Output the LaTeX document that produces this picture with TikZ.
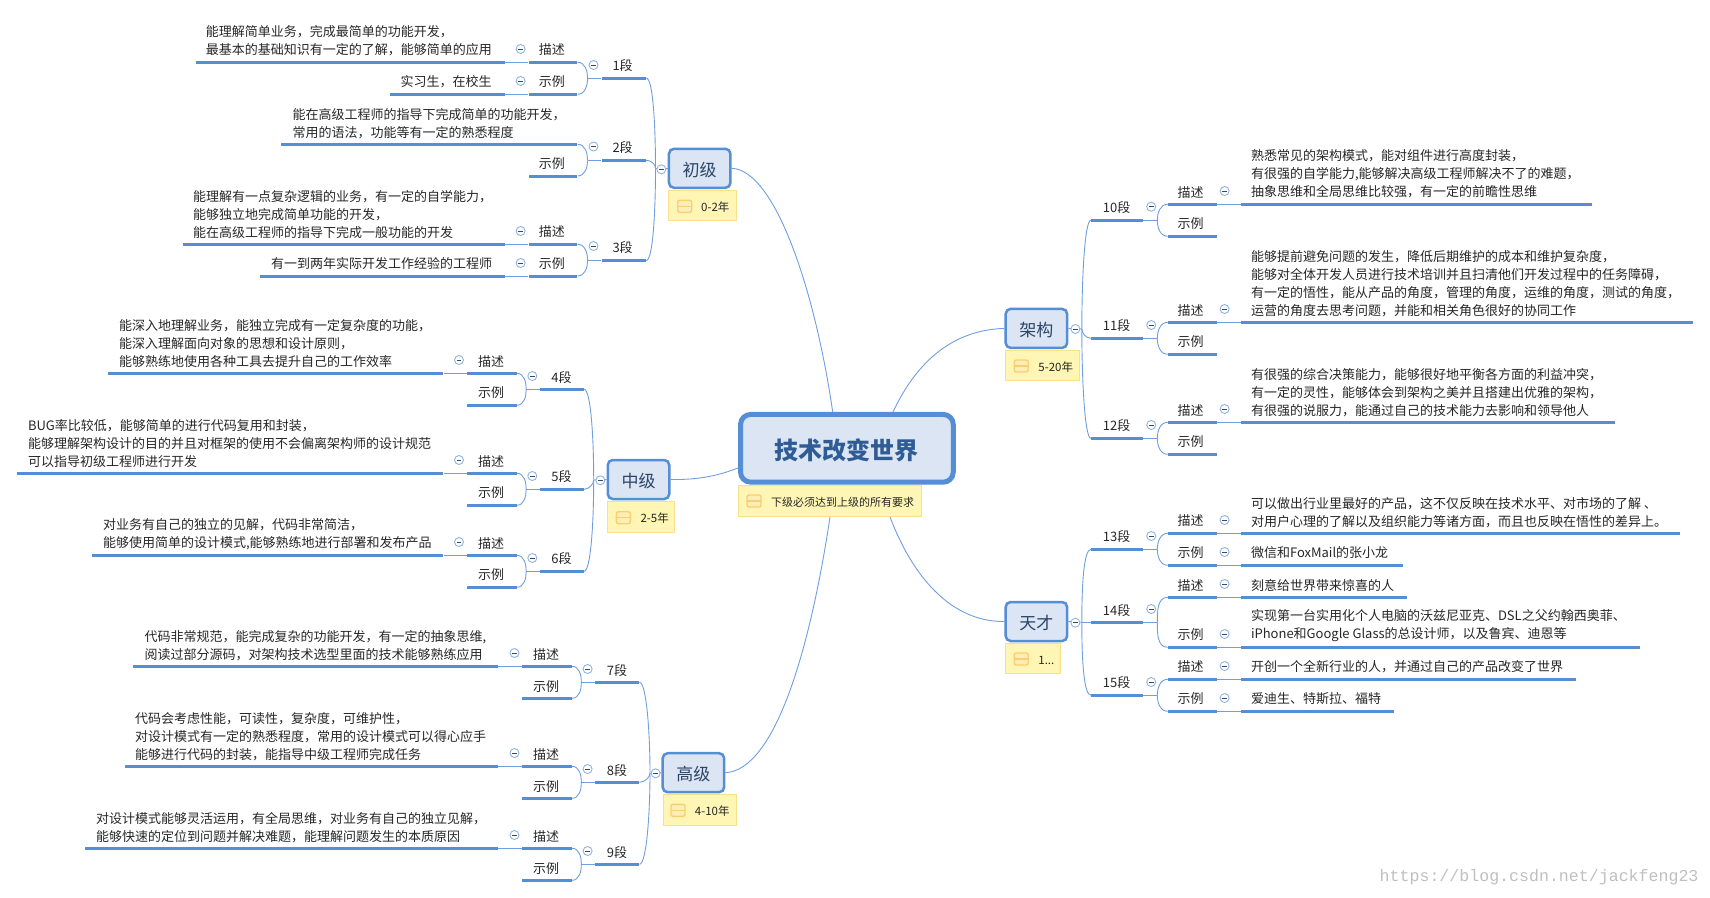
\documentclass[tikz,border=0pt]{standalone}
\usepackage{fontspec}
\usepackage{tikz}
\setmainfont{Noto Sans CJK SC}
\newfontfamily\markfont{Liberation Mono}
\definecolor{barblue}{HTML}{558ED5}
\definecolor{linkblue}{HTML}{6E9FDF}
\definecolor{boxfill}{HTML}{DBE5F3}
\definecolor{topicink}{HTML}{2B4468}
\definecolor{rootink}{HTML}{2F5C94}
\definecolor{notefill}{HTML}{FFF6B5}
\definecolor{noteline}{HTML}{F9E18C}
\definecolor{markfill}{HTML}{FFEDB8}
\definecolor{markline}{HTML}{F8CF72}
\definecolor{foldline}{HTML}{8FB3E3}
\definecolor{bodyink}{HTML}{262626}
\tikzset{
  txt/.style={inner sep=0pt,anchor=west,align=left,yshift=-1pt,text=bodyink,font=\fontsize{13}{18}\selectfont},
  lab/.style={inner sep=0pt,yshift=-1pt,text=bodyink,font=\fontsize{13}{18}\selectfont},
  notetxt/.style={inner sep=0pt,anchor=west,text=bodyink,font=\fontsize{11.5}{14}\selectfont},
  bar/.style={fill=barblue,inner sep=0pt,minimum height=3pt},
  lbar/.style={bar,anchor=east,minimum width=#1},
  rbar/.style={bar,anchor=west,minimum width=#1},
  link/.style={draw=linkblue,line width=0.9pt},
  topic/.style={rectangle,rounded corners=5pt,draw=barblue,line width=2.5pt,fill=boxfill,
    minimum width=61.5pt,minimum height=39pt,inner sep=0pt,text height=16pt,text depth=0pt,text=topicink,font=\fontsize{17}{20}\selectfont},
  note/.style={rectangle,draw=noteline,line width=1pt,fill=notefill,minimum height=30.5pt,inner sep=0pt,minimum width=#1},
  notemark/.style={rectangle,rounded corners=2pt,draw=markline,line width=1.4pt,fill=markfill,
    minimum width=14pt,minimum height=12pt,inner sep=0pt,
    path picture={\draw[markline,line width=1.4pt] (-8pt,0pt) -- (8pt,0pt);}},
  fold/.style={circle,draw=foldline,line width=0.9pt,fill=white,minimum size=9pt,inner sep=0pt,
    path picture={\draw[black!60!foldline,line width=0.8pt] (-2.4pt,0pt) -- (2.4pt,0pt);}}
}
\begin{document}
\begin{tikzpicture}
  [x=1pt,y=-1pt,auto=left]
  \useasboundingbox (0,0) rectangle (1710,897);

  \node[style={rectangle,rounded corners=10pt,draw=barblue,line width=5pt,fill=boxfill,minimum width=212.7pt,minimum height=67.7pt,inner sep=0pt,text height=22pt,text depth=0pt,text=rootink,font=\fontsize{24}{28}\selectfont\bfseries}] (root) at (846.9,448.3) {技术改变世界};
  \node[note=182.7pt,minimum height=30.7pt] (rootnote) at (829.85,500.85) {};
  \node[notemark] (rootmark) at (754,501) {};
  \node[notetxt,font=\fontsize{11}{14}\selectfont] (roottxt) at (771,502.3) {下级必须达到上级的所有要求};
  \coordinate (c1) at (832.7,412);
  \coordinate (c2) at (893,412);
  \coordinate (c3) at (830,517);
  \coordinate (c4) at (890,517);
  \coordinate (c5) at (738,468);

  % left side
  \node[topic] (topic1) at (699.7,168.3) {初级};
  \node[note=67.4pt] (note1) at (702.5,205.6) {};
  \node[notemark] (mark1) at (684.7,206.3) {};
  \node[notetxt] (notetxt1) at (701,207) {0-2年};
  \coordinate (jt1) at (655.5,168.3);

  \node[lab] (seg1) at (622.6,65) {1段};
  \node[lbar=44.4pt] (bar1) at (646.2,78) {};
  \node[lab] (d1) at (551.8,49) {描述};
  \node[lbar=48.8pt] (dbar1) at (577.6,62.3) {};
  \node[lbar=308.9pt] (dlong1) at (504.7,62.3) {};
  \node[txt] (dtxt1) at (205.7,40) {能理解简单业务，完成最简单的功能开发，\\最基本的基础知识有一定的了解，能够简单的应用};
  \node[lab] (e1) at (551.8,81) {示例};
  \node[lbar=48.8pt] (ebar1) at (577.6,94.3) {};
  \node[lbar=114.1pt] (elong1) at (504.7,94.3) {};
  \node[txt] (etxt1) at (400.4,81) {实习生，在校生};

  \node[lab] (seg2) at (622.6,147) {2段};
  \node[lbar=44.4pt] (bar2) at (646.2,160.3) {};
  \node[lbar=296.2pt] (dbar2) at (577.6,144.3) {};
  \node[txt] (dtxt2) at (292.4,122.3) {能在高级工程师的指导下完成简单的功能开发，\\常用的语法，功能等有一定的熟悉程度};
  \node[lab] (e2) at (551.8,163) {示例};
  \node[lbar=48.8pt] (ebar2) at (577.6,176) {};

  \node[lab] (seg3) at (622.6,247) {3段};
  \node[lbar=44.4pt] (bar3) at (646.2,260.5) {};
  \node[lab] (d3) at (551.8,231) {描述};
  \node[lbar=48.8pt] (dbar3) at (577.6,244.3) {};
  \node[lbar=322pt] (dlong3) at (504.7,244.3) {};
  \node[txt] (dtxt3) at (193,213.3) {能理解有一点复杂逻辑的业务，有一定的自学能力，\\能够独立地完成简单功能的开发，\\能在高级工程师的指导下完成一般功能的开发};
  \node[lab] (e3) at (551.8,263) {示例};
  \node[lbar=48.8pt] (ebar3) at (577.6,276) {};
  \node[lbar=244.1pt] (elong3) at (504.7,276) {};
  \node[txt] (etxt3) at (271,263) {有一到两年实际开发工作经验的工程师};

  \node[topic] (topic2) at (638.5,479.5) {中级};
  \node[note=66.9pt] (note2) at (641.35,516.8) {};
  \node[notemark] (mark2) at (623.4,517.7) {};
  \node[notetxt] (notetxt2) at (640.4,518) {2-5年};
  \coordinate (jt2) at (593.7,480);

  \node[lab] (seg4) at (561.6,376.3) {4段};
  \node[lbar=43.6pt] (bar4) at (584,389.3) {};
  \node[lab] (d4) at (491,360.3) {描述};
  \node[lbar=49.8pt] (dbar4) at (516.8,373.3) {};
  \node[lbar=335.1pt] (dlong4) at (443.6,373.3) {};
  \node[txt] (dtxt4) at (119,342.3) {能深入地理解业务，能独立完成有一定复杂度的功能，\\能深入理解面向对象的思想和设计原则，\\能够熟练地使用各种工具去提升自己的工作效率};
  \node[lab] (e4) at (491,392) {示例};
  \node[lbar=49.8pt] (ebar4) at (516.8,405.3) {};

  \node[lab] (seg5) at (561.6,476) {5段};
  \node[lbar=43.6pt] (bar5) at (584,489.3) {};
  \node[lab] (d5) at (491,460.3) {描述};
  \node[lbar=49.8pt] (dbar5) at (516.8,473.3) {};
  \node[lbar=426.1pt] (dlong5) at (443.6,473.3) {};
  \node[txt] (dtxt5) at (27.8,442.3) {BUG率比较低，能够简单的进行代码复用和封装，\\能够理解架构设计的目的并且对框架的使用不会偏离架构师的设计规范\\可以指导初级工程师进行开发};
  \node[lab] (e5) at (491,492) {示例};
  \node[lbar=49.8pt] (ebar5) at (516.8,505.3) {};

  \node[lab] (seg6) at (561.6,558) {6段};
  \node[lbar=43.6pt] (bar6) at (584,571.3) {};
  \node[lab] (d6) at (491,542.3) {描述};
  \node[lbar=49.8pt] (dbar6) at (516.8,555.3) {};
  \node[lbar=351.1pt] (dlong6) at (443.6,555.3) {};
  \node[txt] (dtxt6) at (102.9,533.3) {对业务有自己的独立的见解，代码非常简洁，\\能够使用简单的设计模式,能够熟练地进行部署和发布产品};
  \node[lab] (e6) at (491,574) {示例};
  \node[lbar=49.8pt] (ebar6) at (516.8,587.3) {};

  \node[topic] (topic3) at (693.4,772.7) {高级};
  \node[note=73.1pt] (note3) at (699.65,810) {};
  \node[notemark] (mark3) at (678,810.3) {};
  \node[notetxt] (notetxt3) at (694.7,811) {4-10年};
  \coordinate (jt3) at (650,773.3);

  \node[lab] (seg7) at (616.9,669.3) {7段};
  \node[lbar=43.9pt] (bar7) at (639.5,682.3) {};
  \node[lab] (d7) at (546,653.3) {描述};
  \node[lbar=49.5pt] (dbar7) at (572,666.3) {};
  \node[lbar=364.8pt] (dlong7) at (498.4,666.3) {};
  \node[txt] (dtxt7) at (144.5,644.3) {代码非常规范，能完成复杂的功能开发，有一定的抽象思维,\\阅读过部分源码，对架构技术选型里面的技术能够熟练应用};
  \node[lab] (e7) at (546,685.3) {示例};
  \node[lbar=49.5pt] (ebar7) at (572,698.3) {};

  \node[lab] (seg8) at (616.9,769.3) {8段};
  \node[lbar=43.9pt] (bar8) at (639.5,782.3) {};
  \node[lab] (d8) at (546,753.3) {描述};
  \node[lbar=49.5pt] (dbar8) at (572,766.3) {};
  \node[lbar=373.7pt] (dlong8) at (498.4,766.3) {};
  \node[txt] (dtxt8) at (135,735.3) {代码会考虑性能，可读性，复杂度，可维护性，\\对设计模式有一定的熟悉程度，常用的设计模式可以得心应手\\能够进行代码的封装，能指导中级工程师完成任务};
  \node[lab] (e8) at (546,785.3) {示例};
  \node[lbar=49.5pt] (ebar8) at (572,798.3) {};

  \node[lab] (seg9) at (616.9,851.3) {9段};
  \node[lbar=43.9pt] (bar9) at (639.5,864.3) {};
  \node[lab] (d9) at (546,835.3) {描述};
  \node[lbar=49.5pt] (dbar9) at (572,848.3) {};
  \node[lbar=412.9pt] (dlong9) at (498.4,848.3) {};
  \node[txt] (dtxt9) at (95.9,826.3) {对设计模式能够灵活运用，有全局思维，对业务有自己的独立见解，\\能够快速的定位到问题并解决难题，能理解问题发生的本质原因};
  \node[lab] (e9) at (546,867.3) {示例};
  \node[lbar=49.5pt] (ebar9) at (572,880.3) {};

  % right side
  \node[topic] (topic4) at (1036.4,328.4) {架构};
  \node[note=74pt] (note4) at (1042.5,365.5) {};
  \node[notemark] (mark4) at (1021.2,366) {};
  \node[notetxt] (notetxt4) at (1038.2,367) {5-20年};
  \coordinate (jt4) at (1081.8,329);

  \node[lab] (seg10) at (1116.7,207) {10段};
  \node[rbar=51.9pt] (bar10) at (1091,220) {};
  \node[lab] (d10) at (1190.6,191.3) {描述};
  \node[rbar=48.7pt] (dbar10) at (1167.7,204.3) {};
  \node[rbar=350.8pt] (dlong10) at (1240.7,204.3) {};
  \node[txt] (dtxt10) at (1250.8,173) {熟悉常见的架构模式，能对组件进行高度封装，\\有很强的自学能力,能够解决高级工程师解决不了的难题，\\抽象思维和全局思维比较强，有一定的前瞻性思维};
  \node[lab] (e10) at (1190.6,223) {示例};
  \node[rbar=48.7pt] (ebar10) at (1167.7,236.3) {};

  \node[lab] (seg11) at (1116.7,325) {11段};
  \node[rbar=51.9pt] (bar11) at (1091,338.3) {};
  \node[lab] (d11) at (1190.6,309.3) {描述};
  \node[rbar=48.7pt] (dbar11) at (1167.7,322.3) {};
  \node[rbar=451.8pt] (dlong11) at (1240.7,322.3) {};
  \node[txt] (dtxt11) at (1250.8,282.3) {能够提前避免问题的发生，降低后期维护的成本和维护复杂度，\\能够对全体开发人员进行技术培训并且扫清他们开发过程中的任务障碍，\\有一定的悟性，能从产品的角度，管理的角度，运维的角度，测试的角度，\\运营的角度去思考问题，并能和相关角色很好的协同工作};
  \node[lab] (e11) at (1190.6,341) {示例};
  \node[rbar=48.7pt] (ebar11) at (1167.7,354.3) {};

  \node[lab] (seg12) at (1116.7,425) {12段};
  \node[rbar=51.9pt] (bar12) at (1091,438.3) {};
  \node[lab] (d12) at (1190.6,409.3) {描述};
  \node[rbar=48.7pt] (dbar12) at (1167.7,422.3) {};
  \node[rbar=373.7pt] (dlong12) at (1240.7,422.3) {};
  \node[txt] (dtxt12) at (1250.8,391.3) {有很强的综合决策能力，能够很好地平衡各方面的利益冲突，\\有一定的灵性，能够体会到架构之美并且搭建出优雅的架构，\\有很强的说服力，能通过自己的技术能力去影响和领导他人};
  \node[lab] (e12) at (1190.6,441) {示例};
  \node[rbar=48.7pt] (ebar12) at (1167.7,454.3) {};

  \node[topic] (topic5) at (1036.4,621.5) {天才};
  \node[note=54.7pt] (note5) at (1032.9,658.5) {};
  \node[notemark] (mark5) at (1021.2,659) {};
  \node[notetxt] (notetxt5) at (1038.2,660) {1...};
  \coordinate (jt5) at (1081.8,622.3);

  \node[lab] (seg13) at (1116.7,536) {13段};
  \node[rbar=51.9pt] (bar13) at (1091,549.3) {};
  \node[lab] (d13) at (1190.6,520) {描述};
  \node[rbar=48.7pt] (dbar13) at (1167.7,533.3) {};
  \node[rbar=438.9pt] (dlong13) at (1240.7,533.3) {};
  \node[txt] (dtxt13) at (1250.8,511.2) {可以做出行业里最好的产品，这不仅反映在技术水平、对市场的了解 、\\对用户心理的了解以及组织能力等诸方面，而且也反映在悟性的差异上。};
  \node[lab] (e13) at (1190.6,552) {示例};
  \node[rbar=48.7pt] (ebar13) at (1167.7,565.3) {};
  \node[rbar=161.6pt] (elong13) at (1240.7,565.3) {};
  \node[txt] (etxt13) at (1250.8,552) {微信和FoxMail的张小龙};

  \node[lab] (seg14) at (1116.7,609.3) {14段};
  \node[rbar=51.9pt] (bar14) at (1091,622.3) {};
  \node[lab] (d14) at (1190.6,584.3) {描述};
  \node[rbar=48.7pt] (dbar14) at (1167.7,597.3) {};
  \node[rbar=165.7pt] (dlong14) at (1240.7,597.3) {};
  \node[txt] (dtxt14) at (1250.8,584.3) {刻意给世界带来惊喜的人};
  \node[lab] (e14) at (1190.6,634) {示例};
  \node[rbar=48.7pt] (ebar14) at (1167.7,647.3) {};
  \node[rbar=399pt] (elong14) at (1240.7,647.3) {};
  \node[txt] (etxt14) at (1250.8,625) {实现第一台实用化个人电脑的沃兹尼亚克、DSL之父约翰西奥菲、\\iPhone和Google Glass的总设计师，以及鲁宾、迪恩等};

  \node[lab] (seg15) at (1116.7,682) {15段};
  \node[rbar=51.9pt] (bar15) at (1091,695.3) {};
  \node[lab] (d15) at (1190.6,666) {描述};
  \node[rbar=48.7pt] (dbar15) at (1167.7,679.3) {};
  \node[rbar=334.7pt] (dlong15) at (1240.7,679.3) {};
  \node[txt] (dtxt15) at (1250.8,666) {开创一个全新行业的人，并通过自己的产品改变了世界};
  \node[lab] (e15) at (1190.6,698) {示例};
  \node[rbar=48.7pt] (ebar15) at (1167.7,711.3) {};
  \node[rbar=152.9pt] (elong15) at (1240.7,711.3) {};
  \node[txt] (etxt15) at (1250.8,698) {爱迪生、特斯拉、福特};

  \node[inner sep=0pt,anchor=west,text=black!25,font=\markfont\fontsize{16.6}{18}\selectfont] (stamp) at (1379.5,877) {https://blog.csdn.net/jackfeng23};

  \foreach \n in {1,...,9}
    \coordinate (j\n) at ([xshift=-13.8pt]bar\n.west);
  \foreach \n in {10,...,15}
    \coordinate (j\n) at ([xshift=14pt]bar\n.east);

  % root to topics
  \draw[link] (topic1.east) .. controls (775,170) and (815,290) .. (c1);
  \draw[link] (topic2.east) .. controls (700,480) and (720,475) .. (c5);
  \draw[link] (topic3.east) .. controls (775,770) and (810,650) .. (c3);
  \draw[link] (topic4.west) .. controls (950,330) and (915,365) .. (c2);
  \draw[link] (topic5.west) .. controls (950,622) and (912,575) .. (c4);

  % topics to segments
  \foreach \from/\to in {topic1.west/jt1,topic2.west/jt2,topic3.west/jt3,topic4.east/jt4,topic5.east/jt5,bar14.west/jt5}
    \draw[link] (\from) -- (\to);
  \foreach \from/\to in {jt1/bar1,jt2/bar4,jt3/bar7}
    \draw[link] (\from) to[out=90,in=0,out distance=40pt,in distance=7pt] (\to.east);
  \draw[link] (jt1) to[out=90,in=0,out distance=4pt,in distance=5pt] (bar2.east);
  \foreach \from/\to in {jt1/bar3,jt2/bar6,jt3/bar9}
    \draw[link] (\from) to[out=-90,in=0,out distance=40pt,in distance=7pt] (\to.east);
  \foreach \from/\to in {jt2/bar5,jt3/bar8}
    \draw[link] (\from) to[out=-90,in=0,out distance=4pt,in distance=5pt] (\to.east);
  \draw[link] (jt4) to[out=90,in=180,out distance=40pt,in distance=7pt] (bar10.west);
  \draw[link] (jt5) to[out=90,in=180,out distance=40pt,in distance=7pt] (bar13.west);
  \draw[link] (jt4) to[out=-90,in=180,out distance=4pt,in distance=5pt] (bar11.west);
  \draw[link] (jt4) to[out=-90,in=180,out distance=40pt,in distance=7pt] (bar12.west);
  \draw[link] (jt5) to[out=-90,in=180,out distance=40pt,in distance=7pt] (bar15.west);

  % segments to items
  \foreach \n in {1,...,9} {
    \draw[link] (bar\n.west) -- (j\n);
    \draw[link] (j\n) to[out=90,in=0] (dbar\n.east);
    \draw[link] (j\n) to[out=-90,in=0] (ebar\n.east);
  }
  \foreach \n in {10,...,15} {
    \draw[link] (bar\n.east) -- (j\n);
    \draw[link] (j\n) to[out=90,in=180] (dbar\n.west);
    \draw[link] (j\n) to[out=-90,in=180] (ebar\n.west);
  }

  % items to their long lines
  \foreach \from/\to in {dbar1/dlong1,ebar1/elong1,dbar3/dlong3,ebar3/elong3,dbar4/dlong4,dbar5/dlong5,dbar6/dlong6,dbar7/dlong7,dbar8/dlong8,dbar9/dlong9}
    \draw[link] (\from.west) -- (\to.east);
  \foreach \from/\to in {dbar10/dlong10,dbar11/dlong11,dbar12/dlong12,dbar13/dlong13,ebar13/elong13,dbar14/dlong14,ebar14/elong14,dbar15/dlong15,ebar15/elong15}
    \draw[link] (\from.east) -- (\to.west);

  % fold marks go on top of the lines
  \foreach \n/\x/\y in {t1/661.3/169.3,t2/600.3/480.3,t3/655.6/773.3,t4/1075.4/329,t5/1075.4/622.7,
      s1/593.5/65,s2/593.5/146.5,s3/593.5/246,s4/532.3/376,s5/532.3/476,s6/532.3/558,s7/587.6/669,s8/587.6/769,s9/587.6/851,
      s10/1151.2/206.7,s11/1151.2/325,s12/1151.2/425,s13/1151.2/536,s14/1151.2/609,s15/1151.2/682,
      d1/520.6/49,e1/520.6/81,d3/520.6/231,e3/520.6/263,d4/459/360,d5/459/460,d6/459/542,d7/514.5/653,d8/514.5/753,d9/514.5/835,
      d10/1224.6/191,d11/1224.6/309,d12/1224.6/409,d13/1224.6/520,e13/1224.6/552,d14/1224.6/584,e14/1224.6/634,d15/1224.6/666,e15/1224.6/698}
    \node[fold] (fold\n) at (\x,\y) {};
\end{tikzpicture}
\end{document}
